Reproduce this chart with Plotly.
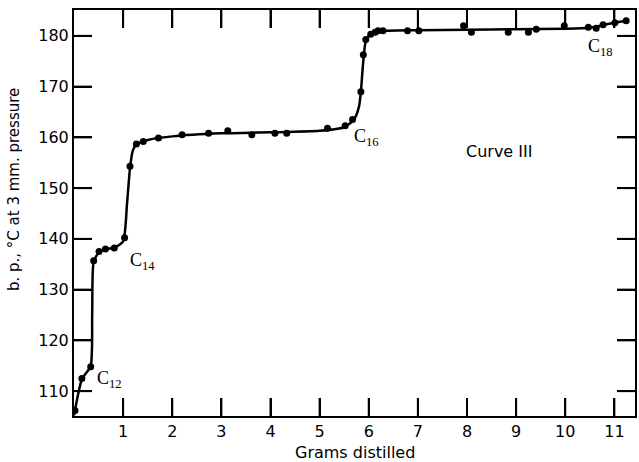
import plotly.graph_objects as go

# Measured points (grams distilled, b.p. °C)
pts_x = [0.02, 0.16, 0.34, 0.40, 0.51, 0.64, 0.82, 1.03, 1.14, 1.27, 1.41, 1.72, 2.20,
         2.74, 3.13, 3.62, 4.09, 4.33, 5.16, 5.52, 5.67, 5.84, 5.89, 5.94, 6.04, 6.13,
         6.19, 6.29, 6.79, 7.02, 7.93, 8.09, 8.84, 9.25, 9.41, 9.98, 10.47, 10.63,
         10.77, 11.01, 11.24]
pts_y = [106.2, 112.5, 114.8, 135.7, 137.5, 138.0, 138.2, 140.2, 154.3, 158.7, 159.2,
         159.9, 160.5, 160.8, 161.3, 160.5, 160.8, 160.8, 161.8, 162.3, 163.5, 169.0,
         176.3, 179.3, 180.3, 180.7, 181.0, 181.0, 181.0, 181.0, 182.0, 180.7, 180.7,
         180.7, 181.3, 182.0, 181.7, 181.5, 182.2, 182.6, 183.0]

# Smooth drawn curve
curve_x = [0.0, 0.16, 0.34, 0.37, 0.40, 0.51, 0.64, 0.82, 1.0, 1.08, 1.14, 1.20, 1.27,
           1.5, 2.0, 3.0, 4.0, 5.0, 5.5, 5.7, 5.80, 5.84, 5.88, 5.93, 6.0, 6.15, 6.35,
           7.0, 8.0, 9.0, 10.0, 10.5, 10.8, 11.0, 11.24]
curve_y = [105.2, 112.3, 115.0, 125.0, 135.5, 137.4, 137.9, 138.3, 139.5, 147.0,
           154.0, 157.5, 158.6, 159.5, 160.2, 160.8, 161.0, 161.3, 162.0, 163.5, 166.0,
           169.0, 174.0, 178.5, 180.0, 180.7, 181.0, 181.1, 181.2, 181.3, 181.4, 181.6,
           182.2, 182.6, 183.0]

x_ticks = list(range(1, 12))
y_ticks = list(range(110, 181, 10))

labels = [
    (0.73, 112.3, "C<sub>12</sub>"),
    (1.40, 135.5, "C<sub>14</sub>"),
    (5.96, 160.0, "C<sub>16</sub>"),
    (10.71, 177.8, "C<sub>18</sub>"),
]

X_RANGE = [0, 11.42]
Y_RANGE = [105.1, 185.1]
W, H = 639, 462
M = dict(l=74, r=2, t=10, b=46)
PLOT_W = W - M["l"] - M["r"]
PLOT_H = H - M["t"] - M["b"]
TICK_LEN = 18  # px, inside ticks on all four sides

fig = go.Figure()
fig.add_trace(go.Scatter(x=curve_x, y=curve_y, mode="lines",
                         line=dict(color="black", width=2.5, shape="spline", smoothing=0.6),
                         hoverinfo="skip", showlegend=False))
fig.add_trace(go.Scatter(x=pts_x, y=pts_y, mode="markers",
                         marker=dict(color="black", size=7), showlegend=False))

# inside tick marks on all four sides, one short segment per tick value
dx = TICK_LEN * (X_RANGE[1] - X_RANGE[0]) / PLOT_W
dy = TICK_LEN * (Y_RANGE[1] - Y_RANGE[0]) / PLOT_H
for v in x_ticks:
    for y0, y1 in ((Y_RANGE[0], Y_RANGE[0] + dy), (Y_RANGE[1], Y_RANGE[1] - dy)):
        fig.add_trace(go.Scatter(x=[v, v], y=[y0, y1], mode="lines",
                                 line=dict(color="black", width=2),
                                 hoverinfo="skip", showlegend=False))
for v in y_ticks:
    for x0, x1 in ((X_RANGE[0], X_RANGE[0] + dx), (X_RANGE[1], X_RANGE[1] - dx)):
        fig.add_trace(go.Scatter(x=[x0, x1], y=[v, v], mode="lines",
                                 line=dict(color="black", width=2),
                                 hoverinfo="skip", showlegend=False))

for x, y, t in labels:
    fig.add_annotation(x=x, y=y, text=t, showarrow=False,
                       font=dict(family="Liberation Serif", size=18, color="black"))

fig.add_annotation(x=8.66, y=157.2, text="Curve III", showarrow=False,
                   font=dict(family="DejaVu Sans", size=16, color="black"))

fig.add_annotation(xref="paper", yref="paper", x=0.5, y=-0.089, yanchor="middle",
                   text="Grams distilled", showarrow=False,
                   font=dict(family="DejaVu Sans", size=16, color="black"))
fig.add_annotation(xref="paper", yref="paper", x=-0.1066, y=0.557, xanchor="center",
                   yanchor="middle", textangle=-90,
                   text="b. p., °C at 3 mm. pressure", showarrow=False,
                   font=dict(family="DejaVu Sans", size=15, color="black"))

axis_common = dict(showline=True, linecolor="black", linewidth=2, mirror="allticks",
                   ticks="inside", ticklen=TICK_LEN, tickwidth=2, tickcolor="black",
                   showgrid=False, zeroline=False,
                   tickfont=dict(family="DejaVu Sans", size=16, color="black"))

fig.update_xaxes(range=X_RANGE, tickmode="array", tickvals=x_ticks, **axis_common)
fig.update_yaxes(range=Y_RANGE, tickmode="array", tickvals=y_ticks, **axis_common)

fig.update_layout(width=W, height=H, margin=M,
                  paper_bgcolor="white", plot_bgcolor="white")

fig.write_html("out.html", config={"displayModeBar": False},
               post_script="document.body.style.margin='0';document.body.style.overflow='hidden';")
